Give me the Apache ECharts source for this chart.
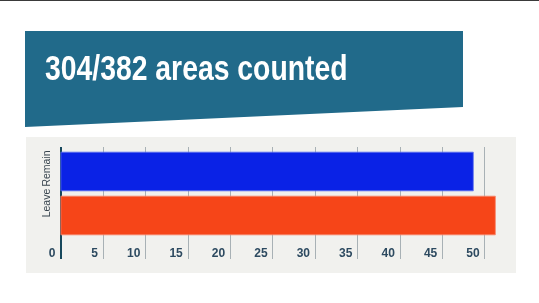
<!DOCTYPE html>
<html>
<head>
<meta charset="utf-8">
<style>html,body{margin:0;padding:0;background:#fff;}#c{width:539px;height:303px;}</style>
<script src="https://cdn.jsdelivr.net/npm/echarts@6/dist/echarts.min.js"></script>
</head>
<body>
<div id="c"></div>
<script>
var titleText = '304/382 areas counted';
var categories = ['Leave', 'Remain'];
var values = [51.3, 48.7];
var barColors = ['#f64518', '#0a22e6'];
var barBorders = ['#f8856a', '#5a6ff0'];
var tickValues = [5, 10, 15, 20, 25, 30, 35, 40, 45, 50];
var labelValues = [0, 5, 10, 15, 20, 25, 30, 35, 40, 45, 50];
var axisMax = 52;

var FONT = "'Liberation Sans', Arial, sans-serif";
var chart = echarts.init(document.getElementById('c'));
var gridLeft = 60.5, gridTop = 149.5, gridH = 88;
var unit = 8.484;
var gridW = axisMax * unit;
var offs = 21.5, tickLen = 112;

chart.setOption({
  animation: false,
  backgroundColor: '#ffffff',
  graphic: [
    { type: 'rect', z: -10, shape: { x: 0, y: 0, width: 539, height: 1 }, style: { fill: '#3a3a3a' } },
    { type: 'polygon', z: -10, shape: { points: [[25, 31], [463, 31], [463, 107], [25, 127]] }, style: { fill: '#216a8a' } },
    { type: 'rect', z: -10, shape: { x: 26, y: 137, width: 490, height: 136 }, style: { fill: '#f1f1ee' } },
    { type: 'text', z: 10, x: 45, y: 53, scaleX: 0.81,
      style: { text: titleText, fill: '#ffffff', font: 'bold 35px ' + FONT, textAlign: 'left', textVerticalAlign: 'top' } }
  ],
  grid: { left: gridLeft, top: gridTop, width: gridW, height: gridH, containLabel: false },
  xAxis: [{
    type: 'value', min: 0, max: axisMax, interval: 5,
    position: 'bottom', offset: offs,
    axisLine: { show: false },
    splitLine: { show: false },
    axisTick: { show: true, inside: true, length: tickLen, customValues: tickValues,
      lineStyle: { color: '#a8b1b5', width: 1 } },
    axisLabel: { show: true, inside: true, margin: -1, customValues: labelValues,
      align: 'right', padding: [0, 5, 0, 0],
      color: '#2d4a60', fontFamily: FONT, fontWeight: 'bold', fontSize: 12 }
  }, {
    type: 'value', min: 0, max: axisMax, interval: 5,
    position: 'bottom', offset: offs,
    axisLine: { show: false },
    splitLine: { show: false },
    axisLabel: { show: false },
    axisTick: { show: true, inside: true, length: tickLen, customValues: [0],
      lineStyle: { color: '#17485c', width: 2 } }
  }],
  yAxis: {
    type: 'category',
    data: [
      { value: categories[0], textStyle: { padding: [0, 0, 0, 25] } },
      { value: categories[1], textStyle: { padding: [0, 0, 0, 6] } }
    ],
    axisLine: { show: false },
    axisTick: { show: false },
    axisLabel: { rotate: 90, interval: 0, hideOverlap: false, margin: 8, color: '#3a4650', fontFamily: FONT, fontSize: 10.5 }
  },
  series: [{
    type: 'bar',
    xAxisIndex: 0,
    barWidth: 39.5,
    data: values.map(function (v, i) {
      return { value: v, itemStyle: { color: barColors[i], borderColor: barBorders[i], borderWidth: 0.8 } };
    })
  }]
});
</script>
</body>
</html>
